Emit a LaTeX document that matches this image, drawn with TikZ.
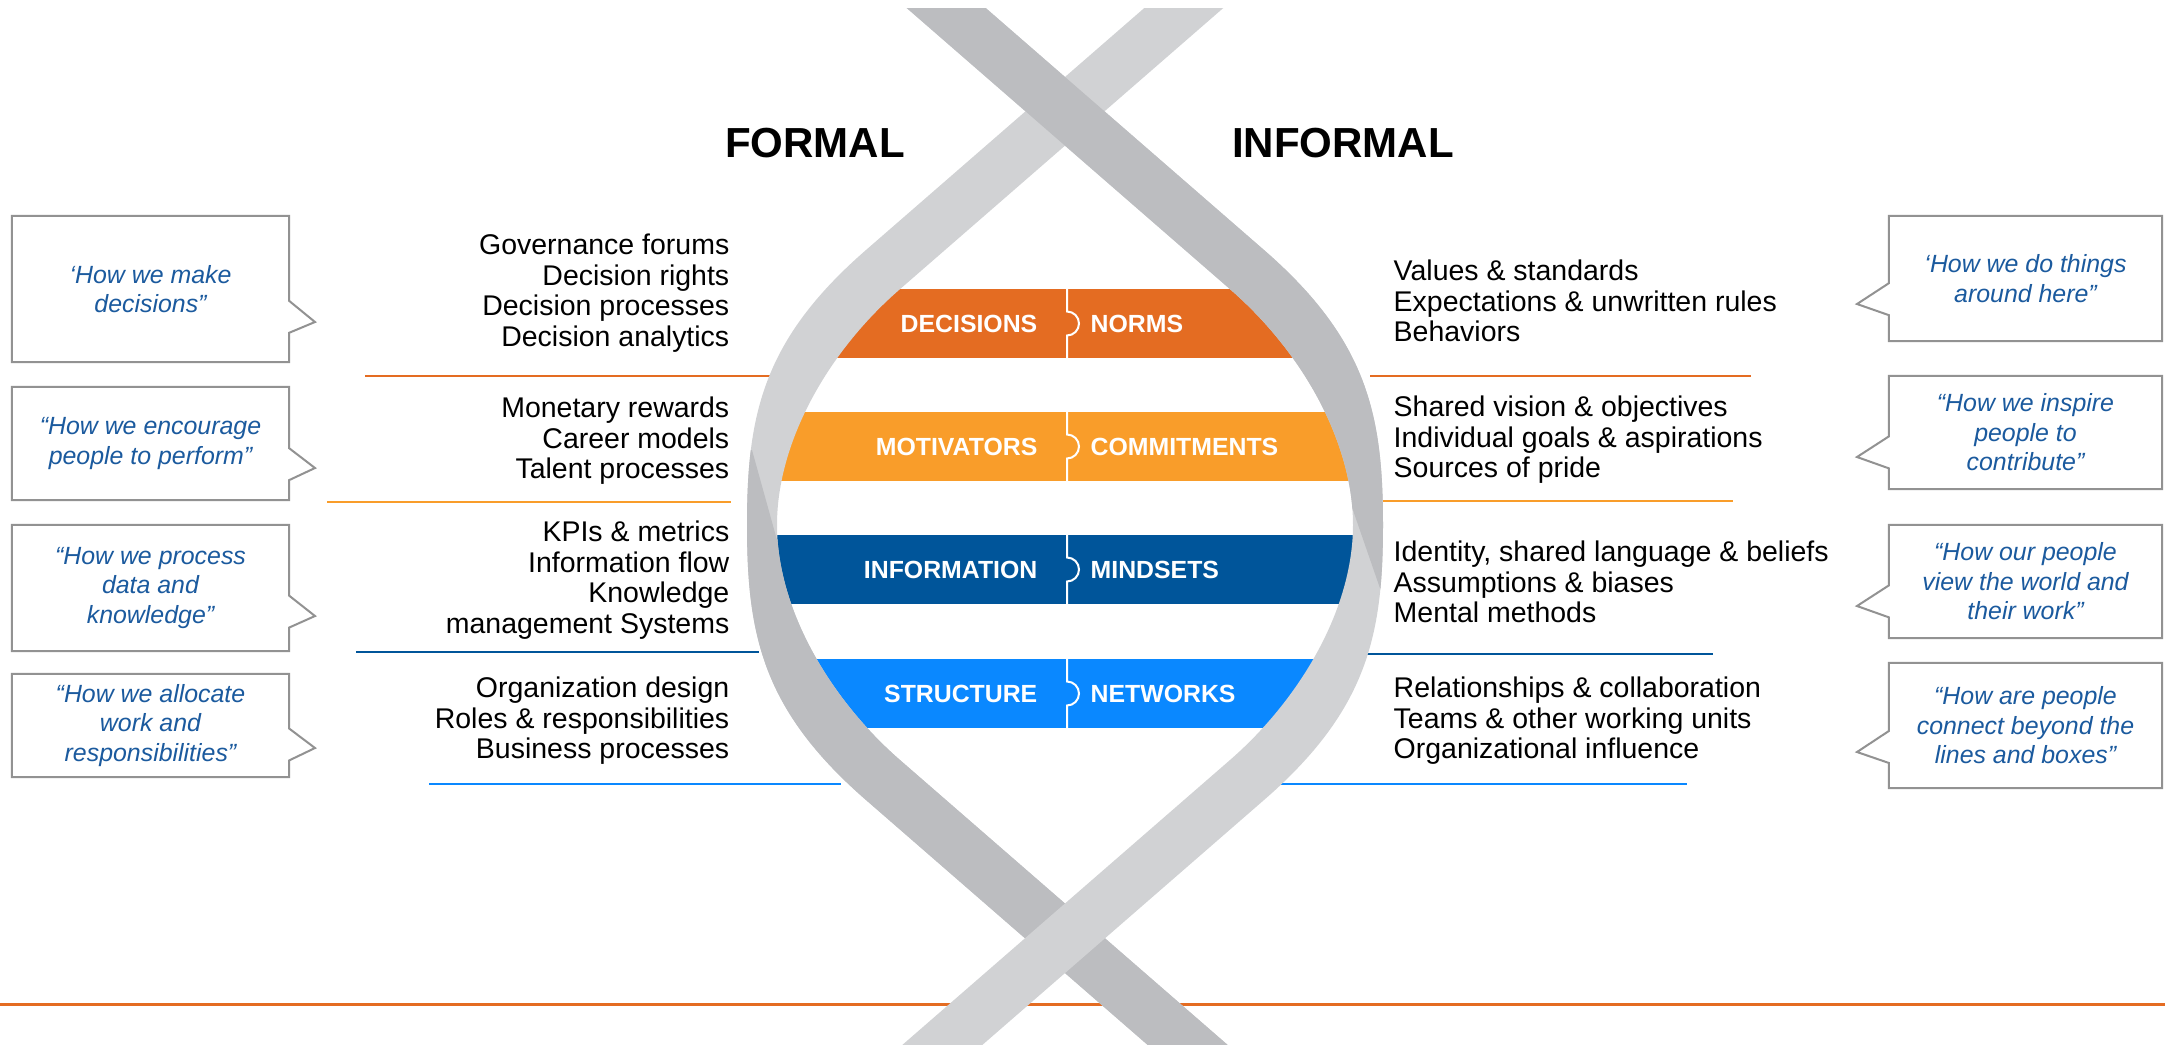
\documentclass[tikz,border=0pt]{standalone}
\usepackage{fontspec}
\setmainfont{Liberation Sans}
\usetikzlibrary{shapes.callouts}

\definecolor{decorange}{HTML}{E46C22}
\definecolor{motorange}{HTML}{F99D2A}
\definecolor{infblue}{HTML}{00559A}
\definecolor{strblue}{HTML}{0A88FF}
\definecolor{helixdark}{HTML}{BCBDC0}
\definecolor{helixlight}{HTML}{D1D2D4}
\definecolor{boxgray}{HTML}{929292}
\definecolor{quoteblue}{HTML}{1B5A9E}

\begin{document}
\begin{tikzpicture}[x=0.01cm, y=-0.01cm]
    % the two strands of the helix (outer edge down, inner edge back up)
    \tikzstyle{rightribbon}=[insert path={(942,-30) -- (1264,250) .. controls (1367.5,340) and (1383,415) .. (1383,525)
        .. controls (1383,635) and (1367.5,710) .. (1264,800) -- (942,1080) -- (862,1080) -- (1230,760)
        .. controls (1299,700) and (1353,610) .. (1353,525) .. controls (1353,440) and (1300,350) .. (1231,290)
        -- (863,-30) -- cycle}]
    \tikzstyle{leftribbon}=[insert path={(1188,-30) -- (866,250) .. controls (762.5,340) and (747,415) .. (747,525)
        .. controls (747,635) and (762.5,710) .. (866,800) -- (1188,1080) -- (1268,1080) -- (900,760)
        .. controls (831,700) and (777,610) .. (777,525) .. controls (777,440) and (830,350) .. (899,290)
        -- (1267,-30) -- cycle}]
    \tikzstyle{sepline}=[line width=0.025cm]
    \tikzstyle{heading}=[inner sep=0, font=\bfseries\fontsize{11.95}{14}\selectfont]
    \tikzstyle{barlabel}=[inner sep=0, text=white, font=\bfseries\fontsize{7.06}{8}\selectfont]
    \tikzstyle{lefttext}=[inner sep=0, anchor=east, align=right, font=\fontsize{8.1}{8.68}\selectfont]
    \tikzstyle{righttext}=[inner sep=0, anchor=west, align=left, font=\fontsize{8.1}{8.68}\selectfont]
    \tikzstyle{callbox}=[rectangle callout, draw=boxgray, line width=0.02cm, fill=white, inner sep=0,
        align=center, text=quoteblue, font=\itshape\fontsize{7.08}{8.4}\selectfont,
        callout pointer width=0.32cm]

    \useasboundingbox (0,0) rectangle (2165,1044);

    % separators
    \draw[sepline, decorange] (365,376) -- (777,376);
    \draw[sepline, motorange] (327,502) -- (731,502);
    \draw[sepline, infblue] (356,652) -- (759,652);
    \draw[sepline, strblue] (429,784) -- (841,784);
    \draw[sepline, decorange] (1370,376) -- (1751,376);
    \draw[sepline, motorange] (1383,501) -- (1733,501);
    \draw[sepline, infblue] (1357,654) -- (1713,654);
    \draw[sepline, strblue] (1272,784) -- (1687,784);
    \draw[line width=0.03cm, decorange] (0,1004) -- (2165,1004);

    % bars inside the helix
    \begin{scope}
        \clip (1229.5,280) -- (1241,290) .. controls (1310,350) and (1363,440) .. (1363,525)
            .. controls (1363,610) and (1309,700) .. (1240,760) -- (890,760)
            .. controls (821,700) and (767,610) .. (767,525) .. controls (767,440) and (820,350) .. (889,290)
            -- (900.5,280) -- cycle;
        \foreach \yt/\col in {289/decorange, 412/motorange, 535/infblue, 659/strblue}
            \fill[\col] (700,\yt) rectangle (1430,\yt+69);
    \end{scope}
    \foreach \yt in {289,412,535,659}
        \draw[white, line width=0.02cm] (1067,\yt) -- (1067,\yt+22.5)
            arc[start angle=-90, end angle=90, radius=12] -- (1067,\yt+69);

    \node[barlabel, anchor=east] (dec) at (1038,324) {DECISIONS};
    \node[barlabel, anchor=west] (nrm) at (1090,324) {NORMS};
    \node[barlabel, anchor=east] (mot) at (1038,447) {MOTIVATORS};
    \node[barlabel, anchor=west] (com) at (1090,447) {COMMITMENTS};
    \node[barlabel, anchor=east] (inf) at (1038,570) {INFORMATION};
    \node[barlabel, anchor=west] (mnd) at (1090,570) {MINDSETS};
    \node[barlabel, anchor=east] (str) at (1038,694) {STRUCTURE};
    \node[barlabel, anchor=west] (net) at (1090,694) {NETWORKS};

    % helix: left strand under, right strand over
    \begin{scope}
        \clip (0,8) rectangle (2165,1044);
        \fill[helixlight, leftribbon];
        \begin{scope}
            \clip (-100,1200) -- (2300,1200) -- (2300,540) -- (777,540) -- (752,450) -- (-100,450) -- cycle;
            \fill[helixdark, leftribbon];
        \end{scope}
        \fill[helixlight, rightribbon];
        \begin{scope}
            \clip (-100,-100) -- (2300,-100) -- (2300,620) -- (1391,620) -- (1346,490) -- (-100,490) -- cycle;
            \fill[helixdark, rightribbon];
        \end{scope}
    \end{scope}

    \node[heading] (formal) at (815,143) {FORMAL};
    \node[heading] (informal) at (1343,143) {INFORMAL};

    % formal side
    \node[lefttext] (gov) at (730,293) {Governance forums\\Decision rights\\Decision processes\\Decision analytics};
    \node[lefttext] (rew) at (730,441) {Monetary rewards\\Career models\\Talent processes};
    \node[lefttext] (kpi) at (730,580) {KPIs \& metrics\\Information flow\\Knowledge\\management Systems};
    \node[lefttext] (org) at (730,721) {Organization design\\Roles \& responsibilities\\Business processes};

    % informal side
    \node[righttext] (val) at (1393,301) {Values \& standards\\Expectations \& unwritten rules\\Behaviors};
    \node[righttext] (vis) at (1393,440) {Shared vision \& objectives\\Individual goals \& aspirations\\Sources of pride};
    \node[righttext] (ide) at (1393,582) {Identity, shared language \& beliefs\\Assumptions \& biases\\Mental methods};
    \node[righttext] (rel) at (1393,721) {Relationships \& collaboration\\Teams \& other working units\\Organizational influence};

    % quotes
    \node[callbox, minimum width=2.77cm, minimum height=1.46cm, callout absolute pointer={(315,322)}]
        (qdec) at (150.5,289) {‘How we make\\decisions”};
    \node[callbox, minimum width=2.77cm, minimum height=1.13cm, callout absolute pointer={(315,468)}]
        (qmot) at (150.5,443.5) {“How we encourage\\people to perform”};
    \node[callbox, minimum width=2.77cm, minimum height=1.26cm, callout absolute pointer={(315,616)}]
        (qinf) at (150.5,588) {“How we process\\data and\\knowledge”};
    \node[callbox, minimum width=2.77cm, minimum height=1.03cm, callout absolute pointer={(315,748)}]
        (qstr) at (150.5,725.5) {“How we allocate\\work and\\responsibilities”};
    \node[callbox, minimum width=2.73cm, minimum height=1.25cm, callout absolute pointer={(1857,304)}]
        (qnrm) at (2025.5,278.5) {‘How we do things\\around here”};
    \node[callbox, minimum width=2.73cm, minimum height=1.13cm, callout absolute pointer={(1857,457)}]
        (qcom) at (2025.5,432.5) {“How we inspire\\people to\\contribute”};
    \node[callbox, minimum width=2.73cm, minimum height=1.13cm, callout absolute pointer={(1857,606)}]
        (qmnd) at (2025.5,581.5) {“How our people\\view the world and\\their work”};
    \node[callbox, minimum width=2.73cm, minimum height=1.25cm, callout absolute pointer={(1857,752)}]
        (qnet) at (2025.5,725.5) {“How are people\\connect beyond the\\lines and boxes”};

\end{tikzpicture}
\end{document}
